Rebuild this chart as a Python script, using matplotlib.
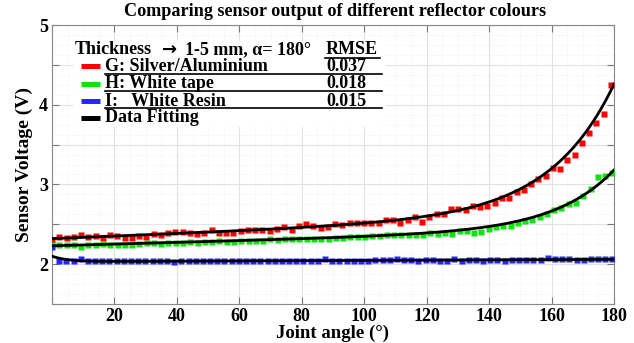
import numpy as np
import matplotlib
matplotlib.use("Agg")
import matplotlib.pyplot as plt
from matplotlib.ticker import MultipleLocator, FixedLocator, FixedFormatter

plt.rcParams['font.family'] = ['Liberation Serif', 'DejaVu Serif']
plt.rcParams['font.weight'] = 'bold'

# ---------------- data ----------------
red_v = [2.30, 2.34, 2.33, 2.34, 2.36, 2.34, 2.35, 2.33, 2.36, 2.35,
         2.33, 2.33, 2.35, 2.34, 2.375, 2.36, 2.39, 2.40, 2.40, 2.39,
         2.38, 2.39, 2.425, 2.395, 2.395, 2.395, 2.41, 2.43, 2.43, 2.43,
         2.41, 2.44, 2.46, 2.43, 2.475, 2.50, 2.48, 2.45, 2.47, 2.50,
         2.495, 2.51, 2.51, 2.51, 2.52,
         2.52, 2.56, 2.55, 2.52, 2.55, 2.59, 2.53, 2.59, 2.63, 2.63,
         2.69, 2.69, 2.675, 2.725, 2.72, 2.73, 2.77, 2.83, 2.83, 2.90,
         2.93, 3.01, 3.07, 3.10, 3.21, 3.19, 3.31, 3.375, 3.52, 3.65,
         3.77, 3.88, 4.25]
green_v = [2.24, 2.24, 2.245, 2.245, 2.22, 2.245, 2.245, 2.25, 2.24, 2.245,
           2.245, 2.245, 2.25, 2.27, 2.26, 2.25, 2.26, 2.27, 2.26, 2.275,
           2.27, 2.275, 2.28, 2.285, 2.28, 2.28, 2.285, 2.29, 2.285, 2.29,
           2.31, 2.30, 2.31, 2.31, 2.31, 2.31, 2.315, 2.32, 2.32, 2.33,
           2.33, 2.34, 2.34, 2.345, 2.35,
           2.355, 2.36, 2.36, 2.36, 2.36, 2.36, 2.36, 2.39, 2.38, 2.39,
           2.38, 2.41, 2.41, 2.395, 2.40, 2.44, 2.46, 2.475, 2.48, 2.51,
           2.54, 2.56, 2.59, 2.63, 2.68, 2.70, 2.75, 2.77, 2.85, 2.94,
           3.09, 3.11, 3.14]
blue_v = [2.22,
          2.04, 2.04, 2.04, 2.06, 2.04, 2.04, 2.04, 2.04, 2.04, 2.04,
          2.045, 2.04, 2.035, 2.035, 2.04, 2.045, 2.03, 2.045, 2.045, 2.04,
          2.035, 2.04, 2.035, 2.045, 2.04, 2.04, 2.04, 2.04, 2.045, 2.045,
          2.04, 2.04, 2.035, 2.045, 2.035, 2.04, 2.04, 2.07, 2.045,
          2.045, 2.045, 2.04, 2.045, 2.045, 2.05,
          2.05, 2.05, 2.06, 2.05, 2.05, 2.04, 2.05, 2.05, 2.045, 2.045,
          2.06, 2.045, 2.055, 2.05, 2.045, 2.055, 2.05, 2.045, 2.055, 2.05,
          2.05, 2.05, 2.055, 2.08, 2.06, 2.06, 2.07, 2.055, 2.055, 2.065,
          2.065, 2.065,
          2.065]
red_x = np.linspace(0, 179, len(red_v))
green_x = np.linspace(0, 179.5, len(green_v))
blue_x = np.linspace(0, 179.5, len(blue_v))

# exp2 fit parameters: y = a*exp(b*x) + c*exp(d*x)
fit_red = (2.42e-4, 0.049, 2.32, 0.000675)
fit_green = (5.41e-5, 0.053, 2.23, 0.000473)
fit_blue = (0.07, -0.2, 2.03, 0.0000815)

series_names = ["G: Silver/Aluminium", "H: White tape", "I:   White Resin"]
rmse_vals = ["0.037", "0.018", "0.015"]
colors = ['#ff0000', '#11e011', '#2626ff']

xticks = [0, 20, 40, 60, 80, 100, 120, 140, 160, 180]
xticklabels = ['', '20', '40', '60', '80', '100', '120', '140', '160', '180']
yticks = [1.5, 2, 2.5, 3, 3.5, 4, 4.5, 5]
yticklabels = ['', '2', '', '3', '', '4', '', '5']

# ---------------- figure ----------------
fig = plt.figure(figsize=(6.34, 3.43), dpi=100)
ax = fig.add_axes([52/634, 1-304/343, (614-52)/634, (304-25)/343])


def fitcurve(p, x):
    a, b, c, d = p
    return a*np.exp(b*x) + c*np.exp(d*x)


xs = np.linspace(0, 180, 400)
for xv, yv, col in zip([red_x, green_x, blue_x], [red_v, green_v, blue_v], colors):
    ax.plot(xv, yv, 's', color=col, ms=4.0, mec='none', zorder=3)
for p in [fit_red, fit_green, fit_blue]:
    ax.plot(xs, fitcurve(p, xs), '-', color='black', lw=2.0, zorder=4)

ax.set_xlim(0, 180)
ax.set_ylim(1.5, 5)
ax.xaxis.set_major_locator(FixedLocator(xticks))
ax.xaxis.set_major_formatter(FixedFormatter(xticklabels))
ax.yaxis.set_major_locator(FixedLocator(yticks))
ax.yaxis.set_major_formatter(FixedFormatter(yticklabels))
ax.xaxis.set_minor_locator(MultipleLocator(5))
ax.yaxis.set_minor_locator(MultipleLocator(0.125))
ax.grid(True, which='major', color='#e2e2e2', lw=0.8, zorder=0)
ax.grid(True, which='minor', color='#ececec', lw=0.6, ls=':', zorder=0)
ax.tick_params(which='major', direction='in', length=5, width=0.8, color='#777777',
               top=True, right=True, labelsize=13, pad=3)
ax.tick_params(which='minor', length=0)
for lab in ax.get_xticklabels() + ax.get_yticklabels():
    lab.set_fontweight('bold')
for s in ax.spines.values():
    s.set_color('#888888')
    s.set_linewidth(0.8)
ax.set_axisbelow(True)

ax.set_xlabel('Joint angle (°)', fontsize=13.5, fontweight='bold', labelpad=0)
ax.set_ylabel('Sensor Voltage (V)', fontsize=14, fontweight='bold', labelpad=4)
fig.text(335/634, 1-12/343, 'Comparing sensor output of different reflector colours',
         ha='center', va='center', fontsize=13.1, fontweight='bold')

# ---------------- custom legend ----------------
def axp(px, py):
    return ((px-52)/562, (304-py)/279)

FS = 13
x0, y0 = axp(73, 41)
x1, y1 = axp(386, 127)
ax.add_patch(plt.Rectangle((x0, y1), x1-x0, y0-y1, transform=ax.transAxes,
                           facecolor='white', edgecolor='none', zorder=5))
tx, ty = axp(75, 50)
ax.text(tx, ty, 'Thickness', transform=ax.transAxes,
        ha='left', va='center', fontsize=FS, fontweight='bold', zorder=6)
ax_, _ = axp(162, 50)
ax.text(ax_, ty, '\u2192', transform=ax.transAxes, ha='left', va='center',
        fontsize=FS, fontweight='bold', family=['DejaVu Sans'], zorder=6)
bx, _ = axp(185, 50)
ax.text(bx, ty, '1-5 mm, \u03b1= 180\u00b0', transform=ax.transAxes,
        ha='left', va='center', fontsize=FS, fontweight='bold', zorder=6)
rx, _ = axp(326, 50)
ax.text(rx, ty, 'RMSE', transform=ax.transAxes, ha='left', va='center',
        fontsize=FS, fontweight='bold', zorder=6)
ux0, uy = axp(325, 58)
ux1, _ = axp(380, 58)
ax.plot([ux0, ux1], [uy, uy], transform=ax.transAxes, color='black', lw=1.2, zorder=6)

row_y = [66, 84, 101]
under_y = [73.5, 91, 108]
lx0, _ = axp(81, 0)
lx1, _ = axp(100, 0)
tx2, _ = axp(105, 0)
lnx1, _ = axp(382, 0)
for name, val, col, py, uyp in zip(series_names, rmse_vals, colors, row_y, under_y):
    _, yy = axp(0, py)
    ax.plot([lx0, lx1], [yy, yy], transform=ax.transAxes, color=col, lw=3.6,
            solid_capstyle='butt', zorder=6)
    ax.text(tx2, yy, name, transform=ax.transAxes, ha='left', va='center',
            fontsize=FS, fontweight='bold', zorder=6)
    ax.text(rx, yy, val, transform=ax.transAxes, ha='left', va='center',
            fontsize=FS, fontweight='bold', zorder=6)
    _, uyy = axp(0, uyp)
    ax.plot([tx2, lnx1], [uyy, uyy], transform=ax.transAxes, color='black', lw=1.2, zorder=6)
_, yy = axp(0, 118)
ax.plot([lx0, lx1], [yy, yy], transform=ax.transAxes, color='black', lw=3.6,
        solid_capstyle='butt', zorder=6)
ax.text(tx2, yy, 'Data Fitting', transform=ax.transAxes, ha='left', va='center',
        fontsize=FS, fontweight='bold', zorder=6)

fig.savefig('out.png', dpi=100)
